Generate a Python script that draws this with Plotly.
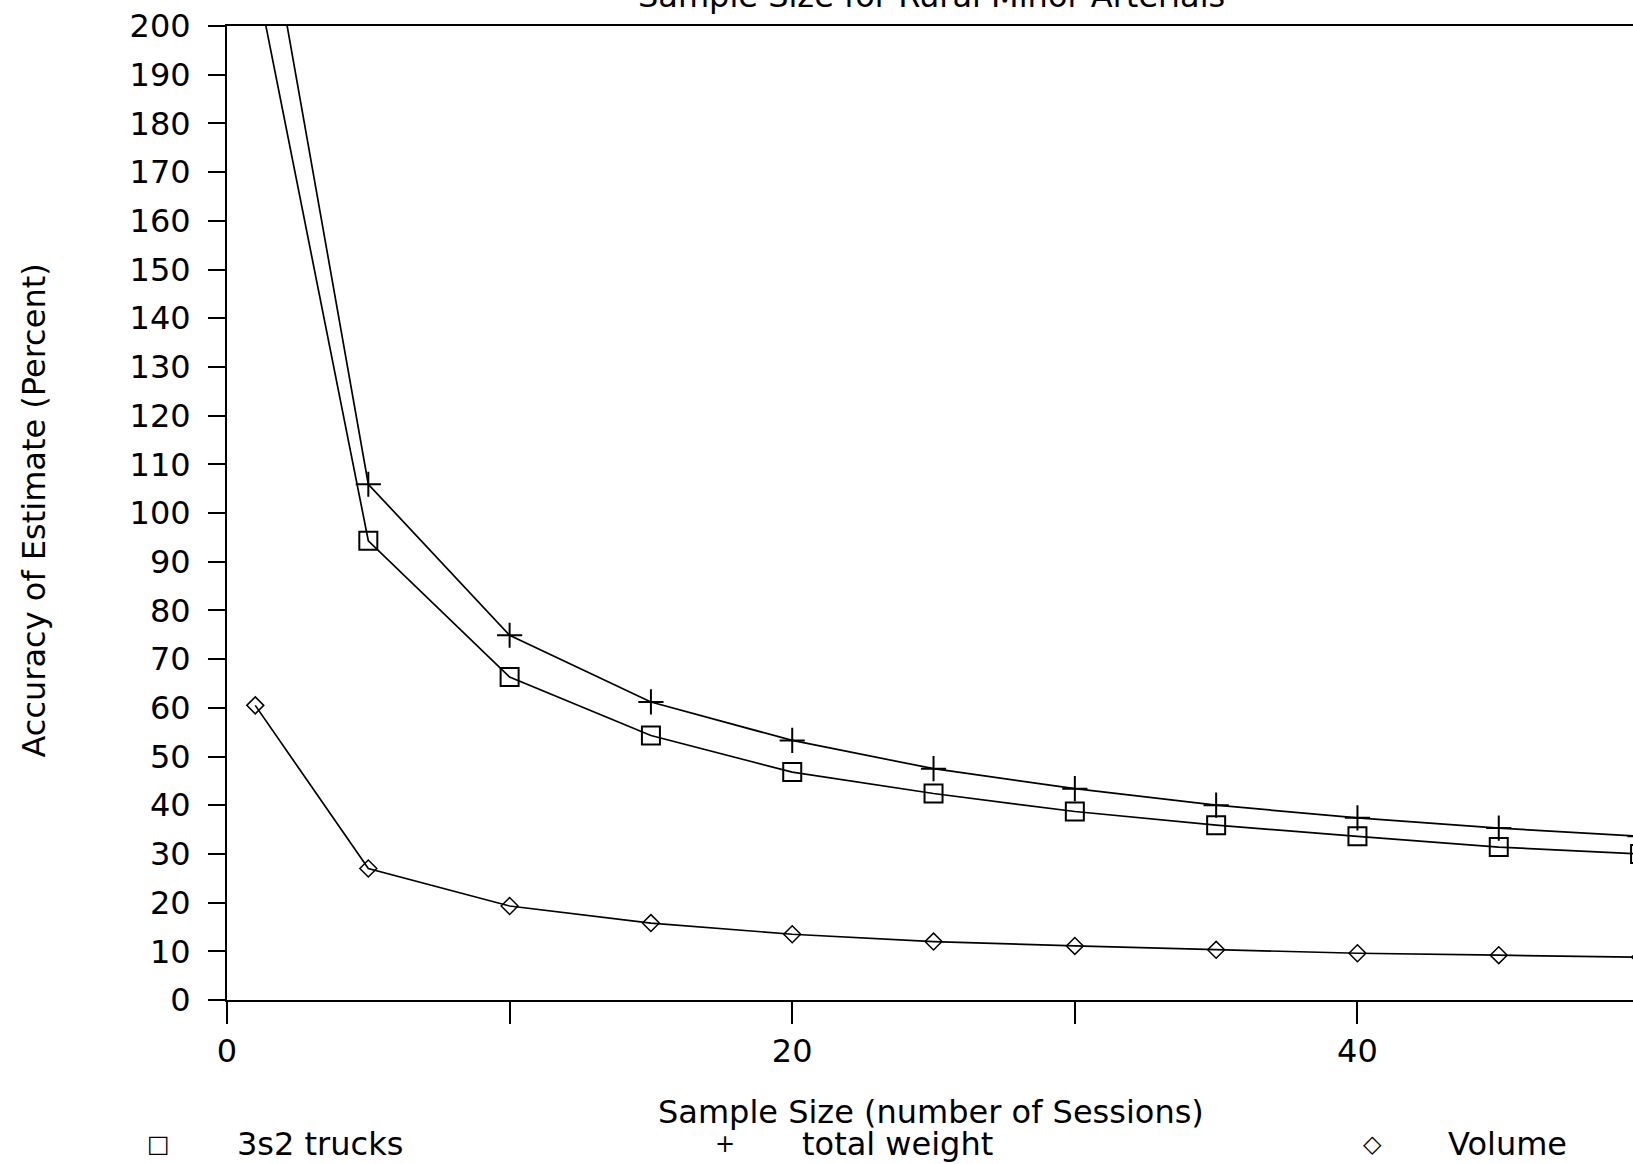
import plotly.graph_objects as go

# Data
sessions = [1, 5, 10, 15, 20, 25, 30, 35, 40, 45, 50]
trucks_3s2 = [211, 94.3, 66.3, 54.3, 46.8, 42.4, 38.7, 35.9, 33.6, 31.4, 30.0]
total_weight = [237, 105.9, 74.9, 61.2, 53.3, 47.5, 43.4, 40.0, 37.4, 35.3, 33.6]
volume = [60.5, 27.0, 19.3, 15.8, 13.5, 12.0, 11.1, 10.3, 9.6, 9.2, 8.8]

y_ticks = list(range(0, 201, 10))
x_ticks = [0, 10, 20, 30, 40]
x_ticktext = ["0", "", "20", "", "40"]

FONT = "DejaVu Sans"
INK = "black"

fig = go.Figure()
fig.add_trace(go.Scatter(x=sessions, y=trucks_3s2, mode="lines+markers", name="3s2 trucks",
                         line=dict(color=INK, width=1.7),
                         marker=dict(symbol="square-open", size=18, color=INK, line=dict(width=2))))
fig.add_trace(go.Scatter(x=sessions, y=total_weight, mode="lines+markers", name="total weight",
                         line=dict(color=INK, width=1.7),
                         marker=dict(symbol="cross-thin-open", size=18, color=INK, line=dict(width=2, color=INK))))
fig.add_trace(go.Scatter(x=sessions, y=volume, mode="lines+markers", name="Volume",
                         line=dict(color=INK, width=1.7),
                         marker=dict(symbol="diamond-open", size=13, color=INK, line=dict(width=1.5))))

fig.update_layout(
    width=1633, height=1164,
    margin=dict(l=227, r=0, t=26, b=164),
    paper_bgcolor="white", plot_bgcolor="white",
    showlegend=False,
    font=dict(family=FONT, size=32, color=INK),
)
fig.update_xaxes(range=[0, 49.75], tickvals=x_ticks, ticktext=x_ticktext,
                 ticks="outside", ticklen=22, tickwidth=2, tickcolor=INK,
                 showline=True, linecolor=INK, linewidth=2, mirror=True,
                 showgrid=False, zeroline=False, tickfont=dict(size=32))
fig.update_yaxes(range=[0, 200], tickvals=y_ticks,
                 ticks="outside", ticklen=17, tickwidth=2, tickcolor=INK,
                 ticklabelstandoff=11, ticklabeloverflow="allow",
                 showline=True, linecolor=INK, linewidth=2,
                 showgrid=False, zeroline=False, tickfont=dict(size=32))

ann = []
# title, cut off at the top edge as in the reference
ann.append(dict(text="Sample Size for Rural Minor Arterials", xref="paper", yref="paper",
                x=0.501, y=1.0313, xanchor="center", yanchor="middle", showarrow=False,
                font=dict(size=32)))
# axis titles
ann.append(dict(text="Accuracy of Estimate (Percent)", xref="paper", yref="paper",
                x=-0.137, y=0.503, xanchor="center", yanchor="middle", textangle=-90,
                showarrow=False, font=dict(size=32)))
ann.append(dict(text="Sample Size (number of Sessions)", xref="paper", yref="paper",
                x=0.501, y=-0.115, xanchor="center", yanchor="middle",
                showarrow=False, font=dict(size=32)))
# legend row
legend_items = [("□", -0.049, "3s2 trucks", 0.0057),
                ("+", 0.354, "total weight", 0.4075),
                ("◇", 0.815, "Volume", 0.867)]
for sym, sx, label, lx in legend_items:
    ann.append(dict(text=sym, xref="paper", yref="paper", x=sx, y=-0.148,
                    xanchor="center", yanchor="middle", showarrow=False, font=dict(size=24)))
    ann.append(dict(text=label, xref="paper", yref="paper", x=lx, y=-0.148,
                    xanchor="left", yanchor="middle", showarrow=False, font=dict(size=32)))
fig.update_layout(annotations=ann)

fig.write_html("out.html", config={"displayModeBar": False},
               post_script="document.body.style.margin='0';")
